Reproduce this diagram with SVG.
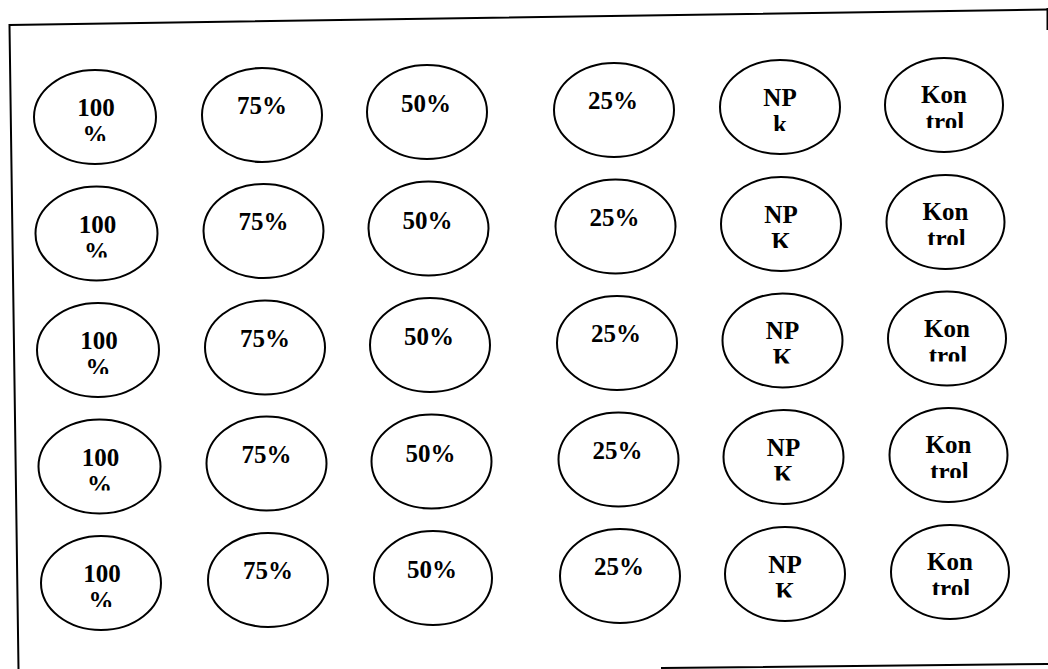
<svg xmlns="http://www.w3.org/2000/svg" width="1048" height="669" viewBox="0 0 1048 669">
<style>
.frame{fill:none;stroke:#000;stroke-width:2;stroke-linecap:square}
.node ellipse{fill:#fff;stroke:#000;stroke-width:2}
.node text{font-family:"Liberation Serif","Times New Roman",serif;font-weight:bold;font-size:25px;fill:#000;text-anchor:middle}
.l2{clip-path:url(#cut)}
</style>
<defs>
<clipPath id="cut" clipPathUnits="objectBoundingBox"><rect x="-0.2" y="0" width="1.4" height="0.74"/></clipPath>
</defs>
<rect width="1048" height="669" fill="#fff"/>
<g id="frame">
<path class="frame" d="M18.5,669 L9.5,25 L1047,9.5"/>
<path class="frame" d="M1047.5,9 L1047.5,29"/>
<path class="frame" d="M662,668 L1047,664"/>
</g>
<g id="connectors"/>
<!-- row 1 -->
<g id="r1c1" class="node"><ellipse cx="95" cy="117" rx="61" ry="47"/><text x="96" y="116">100</text><text class="l2" x="95" y="143">%</text></g>
<g id="r1c2" class="node"><ellipse cx="262" cy="115" rx="60" ry="47"/><text x="262" y="114">75%</text></g>
<g id="r1c3" class="node"><ellipse cx="427" cy="112" rx="60" ry="47"/><text x="426" y="112">50%</text></g>
<g id="r1c4" class="node"><ellipse cx="614" cy="110" rx="60" ry="47"/><text x="613" y="109">25%</text></g>
<g id="r1c5" class="node"><ellipse cx="780" cy="107" rx="60" ry="47"/><text x="780" y="106">NP</text><text class="l2" x="780" y="133">k</text></g>
<g id="r1c6" class="node"><ellipse cx="944" cy="105" rx="59" ry="47"/><text x="944" y="103">Kon</text><text class="l2" x="945" y="130">trol</text></g>
<!-- row 2 -->
<g id="r2c1" class="node"><ellipse cx="96.5" cy="233.5" rx="61" ry="47"/><text x="97.5" y="232.5">100</text><text class="l2" x="96.5" y="259.5">%</text></g>
<g id="r2c2" class="node"><ellipse cx="263.5" cy="231" rx="60" ry="47"/><text x="263.5" y="230">75%</text></g>
<g id="r2c3" class="node"><ellipse cx="428.5" cy="228.5" rx="60" ry="47"/><text x="427.5" y="228.5">50%</text></g>
<g id="r2c4" class="node"><ellipse cx="615.5" cy="226.5" rx="60" ry="47"/><text x="614.5" y="225.5">25%</text></g>
<g id="r2c5" class="node"><ellipse cx="781" cy="224" rx="60" ry="47"/><text x="781" y="223">NP</text><text class="l2" x="781" y="250">K</text></g>
<g id="r2c6" class="node"><ellipse cx="945.5" cy="222" rx="59" ry="47"/><text x="945.5" y="220">Kon</text><text class="l2" x="946.5" y="247">trol</text></g>
<!-- row 3 -->
<g id="r3c1" class="node"><ellipse cx="98" cy="350" rx="61" ry="47"/><text x="99" y="349">100</text><text class="l2" x="98" y="376">%</text></g>
<g id="r3c2" class="node"><ellipse cx="265" cy="347.5" rx="60" ry="47"/><text x="265" y="346.5">75%</text></g>
<g id="r3c3" class="node"><ellipse cx="430" cy="345" rx="60" ry="47"/><text x="429" y="345">50%</text></g>
<g id="r3c4" class="node"><ellipse cx="617" cy="343" rx="60" ry="47"/><text x="616" y="342">25%</text></g>
<g id="r3c5" class="node"><ellipse cx="782.5" cy="340.5" rx="60" ry="47"/><text x="782.5" y="338.5">NP</text><text class="l2" x="782.5" y="365.5">K</text></g>
<g id="r3c6" class="node"><ellipse cx="947" cy="338.5" rx="59" ry="47"/><text x="947" y="336.5">Kon</text><text class="l2" x="948" y="363.5">trol</text></g>
<!-- row 4 -->
<g id="r4c1" class="node"><ellipse cx="99.5" cy="466.5" rx="61" ry="47"/><text x="100.5" y="465.5">100</text><text class="l2" x="99.5" y="492.5">%</text></g>
<g id="r4c2" class="node"><ellipse cx="266.5" cy="463.5" rx="60" ry="47"/><text x="266.5" y="462.5">75%</text></g>
<g id="r4c3" class="node"><ellipse cx="431.5" cy="461.5" rx="60" ry="47"/><text x="430.5" y="461.5">50%</text></g>
<g id="r4c4" class="node"><ellipse cx="618.5" cy="459.5" rx="60" ry="47"/><text x="617.5" y="458.5">25%</text></g>
<g id="r4c5" class="node"><ellipse cx="783.5" cy="457" rx="60" ry="47"/><text x="783.5" y="455.5">NP</text><text class="l2" x="783.5" y="482.5">K</text></g>
<g id="r4c6" class="node"><ellipse cx="948.5" cy="455" rx="59" ry="47"/><text x="948.5" y="453">Kon</text><text class="l2" x="949.5" y="480">trol</text></g>
<!-- row 5 -->
<g id="r5c1" class="node"><ellipse cx="101" cy="583" rx="60" ry="47"/><text x="102" y="582">100</text><text class="l2" x="101" y="609">%</text></g>
<g id="r5c2" class="node"><ellipse cx="268" cy="580" rx="60" ry="47"/><text x="268" y="579">75%</text></g>
<g id="r5c3" class="node"><ellipse cx="433" cy="578" rx="59" ry="47"/><text x="432" y="578">50%</text></g>
<g id="r5c4" class="node"><ellipse cx="620" cy="576" rx="60" ry="47"/><text x="619" y="575">25%</text></g>
<g id="r5c5" class="node"><ellipse cx="785" cy="574" rx="60" ry="47"/><text x="785" y="572.5">NP</text><text class="l2" x="785" y="599.5">K</text></g>
<g id="r5c6" class="node"><ellipse cx="950" cy="572" rx="59" ry="47"/><text x="950" y="570">Kon</text><text class="l2" x="951" y="597">trol</text></g>
</svg>
